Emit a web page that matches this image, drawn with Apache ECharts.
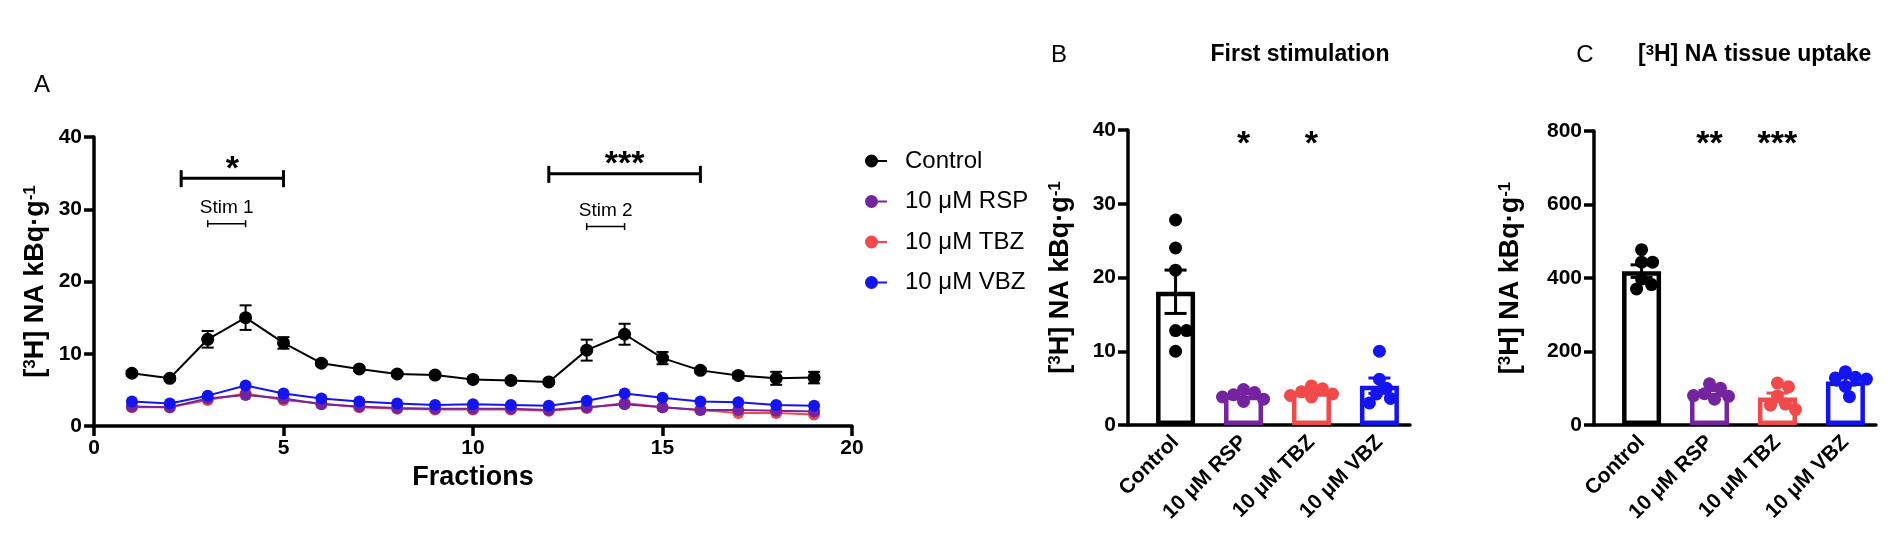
<!DOCTYPE html>
<html><head><meta charset="utf-8">
<script src="https://cdn.jsdelivr.net/npm/echarts@6/dist/echarts.min.js"></script>
<style>html,body{margin:0;padding:0;background:#fff}#c{width:1902px;height:541px}</style>
</head><body><div id="c"></div>
<script>
// ---------- DATA ----------
// Panel A: release per fraction (mean, SEM)
const fractions = [1,2,3,4,5,6,7,8,9,10,11,12,13,14,15,16,17,18,19];
const controlA = [7.3, 6.6, 12.0, 15.0, 11.5, 8.7, 7.9, 7.2, 7.05, 6.45, 6.3, 6.1, 10.5, 12.7, 9.4, 7.7, 7.0, 6.6, 6.7];
const controlSemA = [0.3, 0.3, 1.15, 1.7, 0.8, 0.3, 0.3, 0.3, 0.3, 0.3, 0.3, 0.3, 1.45, 1.45, 0.85, 0.3, 0.4, 0.9, 0.8];
const rspA = [2.7, 2.6, 3.8, 4.3, 3.8, 3.0, 2.7, 2.5, 2.4, 2.4, 2.4, 2.2, 2.6, 3.0, 2.6, 2.2, 2.2, 2.1, 2.0];
const tbzA = [2.6, 2.6, 3.6, 4.5, 3.6, 3.1, 2.6, 2.4, 2.3, 2.3, 2.3, 2.1, 2.5, 3.2, 2.6, 2.2, 1.8, 1.8, 1.6];
const vbzA = [3.4, 3.1, 4.2, 5.6, 4.5, 3.8, 3.4, 3.1, 2.9, 3.0, 2.9, 2.8, 3.5, 4.5, 3.9, 3.4, 3.3, 2.9, 2.8];
const seriesNamesA = ['Control', '10 \u03bcM RSP', '10 \u03bcM TBZ', '10 \u03bcM VBZ'];
const xTickIntervalA = 5, xMaxA = 20, yMaxA = 40, yIntervalA = 10;
// significance brackets and stimulation periods (fraction from, fraction to, level)
const sigFromA = [2.3, 12], sigToA = [5, 16], sigLevelA = [34.3, 34.9], sigTextA = ['*', '***'];
const stimFromA = [3, 13], stimToA = [4, 14], stimLevelA = [28.0, 27.6], stimTextA = ['Stim 1', 'Stim 2'];

// Panels B and C: groups and individual points
const groups = ['Control', '10 \u03bcM RSP', '10 \u03bcM TBZ', '10 \u03bcM VBZ'];
const firstStim = [
  [27.8, 24.0, 21.0, 12.8, 12.8, 10.0],
  [4.8, 4.4, 4.1, 3.8, 3.5, 3.2],
  [5.3, 4.9, 4.5, 4.2, 4.0, 3.8],
  [10.0, 6.2, 5.0, 4.2, 3.6, 3.0]
];
const tissueUptake = [
  [477, 443, 443, 397, 382, 370],
  [112, 100, 85, 80, 78, 70],
  [114, 104, 79, 57, 54, 42],
  [145, 130, 128, 125, 105, 77]
];
const yMaxB = 40, yIntervalB = 10, yMaxC = 800, yIntervalC = 200;
const sigGroupB = [1, 2], sigLevelB = [38.0, 38.0], sigTextB = ['*', '*'];
const sigGroupC = [1, 2], sigLevelC = [762, 762], sigTextC = ['**', '***'];

// ---------- STYLE / LAYOUT ----------
const FONT = '"Liberation Sans", Arial, Helvetica, sans-serif';
const groupColors = ['#000000', '#74249f', '#f04a4a', '#1414ee'];
const GA = {left: 94, top: 137, width: 758, height: 289};
const GB = {left: 1128, top: 130, width: 282, height: 295};
const GC = {left: 1594, top: 131, width: 282, height: 294};
const X_MIN = -0.7, X_MAX = 3.45;
const DOT = 13, SWARM_GAP = 11;

function mean(a){ return a.reduce((s,v)=>s+v,0)/a.length; }
function sem(a){ const m=mean(a); const v=a.reduce((s,x)=>s+(x-m)*(x-m),0)/(a.length-1); return Math.sqrt(v/a.length); }

// beeswarm offsets in pixels
function swarm(vals, ppuY, D){
  const order = vals.map((v,i)=>i).sort((a,b)=>vals[b]-vals[a]);
  const placed = []; const off = new Array(vals.length).fill(0);
  for (const i of order){
    const y = vals[i]*ppuY; let best = 0;
    for (let k=0;k<400;k++){
      const c = k===0?0:(k%2?Math.ceil(k/2):-Math.ceil(k/2));
      if (placed.every(p => (p.x-c)*(p.x-c)+(p.y-y)*(p.y-y) >= D*D)){ best=c; break; }
    }
    placed.push({x:best,y}); off[i]=best;
  }
  return off;
}

function dotData(groupVals, grid, yMax){
  const ppuY = grid.height / yMax;
  const ppuX = grid.width / (X_MAX - X_MIN);
  const out = [];
  groupVals.forEach((vals, g) => {
    const off = swarm(vals, ppuY, SWARM_GAP);
    vals.forEach((v, j) => out.push({value: [g + off[j]/ppuX, v], itemStyle: {color: groupColors[g], opacity: 1}}));
  });
  return out;
}

function errRender(capHalf, lw, colorFn){
  return function(params, api){
    const x = api.value(0), lo = api.value(1), hi = api.value(2);
    const a = api.coord([x, lo]), b = api.coord([x, hi]);
    const st = {stroke: colorFn(params.dataIndex), lineWidth: lw};
    return {type:'group', children:[
      {type:'line', shape:{x1:a[0],y1:a[1],x2:b[0],y2:b[1]}, style:st},
      {type:'line', shape:{x1:a[0]-capHalf,y1:a[1],x2:a[0]+capHalf,y2:a[1]}, style:st},
      {type:'line', shape:{x1:b[0]-capHalf,y1:b[1],x2:b[0]+capHalf,y2:b[1]}, style:st}
    ]};
  };
}

function starRender(texts){
  return function(params, api){
    const p = api.coord([api.value(0), api.value(1)]);
    return {type:'text', x:p[0], y:p[1], style:{text:texts[params.dataIndex], align:'center', verticalAlign:'middle',
      fontSize:34, fontWeight:'bold', fontFamily:FONT, fill:'#000'}};
  };
}

const axisLine = {show:true, onZero:false, lineStyle:{color:'#000', width:3.5}};
const axisTick = {show:true, length:10, lineStyle:{color:'#000', width:3.5}};
const tickLabel = {color:'#000', fontSize:21, fontWeight:'bold', fontFamily:FONT};
const supRich = {s:{fontSize:17, fontWeight:'bold', fontFamily:FONT, fill:'#000', color:'#000', verticalAlign:'top'}};
const yTitle = '[{s|3}H] NA kBq\u00b7g{s|-1}';
const yNameStyle = {fontSize:27, fontWeight:'bold', fontFamily:FONT, color:'#000', rich:supRich};

function catXAxis(gridIndex){
  return {type:'value', gridIndex, min:X_MIN, max:X_MAX, axisLine, axisTick:{show:false}, splitLine:{show:false},
    axisLabel:{...tickLabel, rotate:45, margin:14, customValues:[0,1,2,3], formatter:(v)=>groups[Math.round(v)]}};
}

// ---------- CHART ----------
const chart = echarts.init(document.getElementById('c'));
const meansB = firstStim.map(mean), semB = firstStim.map(sem);
const meansC = tissueUptake.map(mean), semC = tissueUptake.map(sem);
const linesA = [controlA, rspA, tbzA, vbzA];

const option = {
  animation: false,
  backgroundColor: '#fff',
  grid: [
    {left:GA.left, top:GA.top, width:GA.width, height:GA.height},
    {left:GB.left, top:GB.top, width:GB.width, height:GB.height},
    {left:GC.left, top:GC.top, width:GC.width, height:GC.height}
  ],
  xAxis: [
    {type:'value', gridIndex:0, min:0, max:xMaxA, interval:xTickIntervalA, axisLine, axisTick, splitLine:{show:false},
      axisLabel:{...tickLabel, margin:12}, name:'Fractions', nameLocation:'middle', nameGap:29,
      nameTextStyle:{fontSize:27, fontWeight:'bold', fontFamily:FONT, color:'#000'}},
    catXAxis(1), catXAxis(2)
  ],
  yAxis: [
    {type:'value', gridIndex:0, min:0, max:yMaxA, interval:yIntervalA, axisLine, axisTick, splitLine:{show:false},
      axisLabel:{...tickLabel, margin:12}, name:yTitle, nameLocation:'middle', nameGap:45, nameTextStyle:yNameStyle},
    {type:'value', gridIndex:1, min:0, max:yMaxB, interval:yIntervalB, axisLine, axisTick, splitLine:{show:false},
      axisLabel:{...tickLabel, margin:12}, name:yTitle, nameLocation:'middle', nameGap:54, nameTextStyle:yNameStyle},
    {type:'value', gridIndex:2, min:0, max:yMaxC, interval:yIntervalC, axisLine, axisTick, splitLine:{show:false},
      axisLabel:{...tickLabel, margin:12}, name:yTitle, nameLocation:'middle', nameGap:70, nameTextStyle:yNameStyle}
  ],
  legend: {
    orient:'vertical', left:860, top:143, itemWidth:22, itemHeight:13, itemGap:14.5,
    icon:'path://M6.5,0A6.5,6.5,0,1,1,6.5,13A6.5,6.5,0,1,1,6.5,0Z M12,5.5L22,5.5L22,7.5L12,7.5Z',
    itemStyle:{borderWidth:0},
    textStyle:{fontSize:24, lineHeight:26, fontFamily:FONT, color:'#000', padding:[0,0,0,13]},
    data: seriesNamesA, selectedMode:false
  },
  graphic: [
    {type:'text', x:42, y:85, style:{text:'A', align:'center', verticalAlign:'middle', fontSize:24, fontFamily:FONT, fill:'#000'}},
    {type:'text', x:1059, y:55, style:{text:'B', align:'center', verticalAlign:'middle', fontSize:24, fontFamily:FONT, fill:'#000'}},
    {type:'text', x:1300, y:55, style:{text:'First stimulation', align:'center', verticalAlign:'middle', fontSize:23, fontWeight:'bold', fontFamily:FONT, fill:'#000'}},
    {type:'text', x:1585, y:55, style:{text:'C', align:'center', verticalAlign:'middle', fontSize:24, fontFamily:FONT, fill:'#000'}},
    {type:'text', x:1638, y:55, style:{text:'[{s|3}H] NA tissue uptake', align:'left', verticalAlign:'middle', fontSize:23, fontWeight:'bold', fontFamily:FONT, fill:'#000',
      rich:{s:{fontSize:15, fontWeight:'bold', fontFamily:FONT, fill:'#000', verticalAlign:'top'}}}}
  ],
  series: []
};

// Panel A lines (drawn TBZ, RSP, VBZ, Control so that Control is on top)
[2,1,3,0].forEach(k => {
  option.series.push({
    type:'line', name:seriesNamesA[k], xAxisIndex:0, yAxisIndex:0,
    data: fractions.map((f,i)=>[f, linesA[k][i]]),
    symbol:'circle', symbolSize: k===0?13:12, showSymbol:true,
    lineStyle:{color:groupColors[k], width:2}, itemStyle:{color:groupColors[k], borderWidth:0, opacity:1},
    z: k===0?6:(k===3?5:4), emphasis:{disabled:true}
  });
});
// Control error bars
option.series.push({
  type:'custom', xAxisIndex:0, yAxisIndex:0, z:7,
  data: fractions.map((f,i)=>[f, controlA[i]-controlSemA[i], controlA[i]+controlSemA[i]]),
  encode:{x:0, y:[1,2]}, renderItem: errRender(6, 2, ()=> '#000')
});
// Significance brackets
option.series.push({
  type:'custom', xAxisIndex:0, yAxisIndex:0, z:8,
  data: sigFromA.map((f,i)=>[f, sigToA[i], sigLevelA[i]]),
  encode:{x:[0,1], y:2},
  renderItem: function(params, api){
    const a = api.coord([api.value(0), api.value(2)]), b = api.coord([api.value(1), api.value(2)]);
    const st = {stroke:'#000', lineWidth:3};
    return {type:'group', children:[
      {type:'line', shape:{x1:a[0],y1:a[1],x2:b[0],y2:b[1]}, style:st},
      {type:'line', shape:{x1:a[0],y1:a[1]-8,x2:a[0],y2:a[1]+9}, style:st},
      {type:'line', shape:{x1:b[0],y1:b[1]-8,x2:b[0],y2:b[1]+9}, style:st},
      {type:'text', x:(a[0]+b[0])/2, y:a[1]-9, style:{text:sigTextA[params.dataIndex], align:'center', verticalAlign:'middle', fontSize:34, fontWeight:'bold', fontFamily:FONT, fill:'#000'}}
    ]};
  }
});
// Stimulation periods
option.series.push({
  type:'custom', xAxisIndex:0, yAxisIndex:0, z:8,
  data: stimFromA.map((f,i)=>[f, stimToA[i], stimLevelA[i]]),
  encode:{x:[0,1], y:2},
  renderItem: function(params, api){
    const a = api.coord([api.value(0), api.value(2)]), b = api.coord([api.value(1), api.value(2)]);
    const st = {stroke:'#000', lineWidth:1.5};
    return {type:'group', children:[
      {type:'line', shape:{x1:a[0],y1:a[1],x2:b[0],y2:b[1]}, style:st},
      {type:'line', shape:{x1:a[0],y1:a[1]-3.5,x2:a[0],y2:a[1]+3.5}, style:st},
      {type:'line', shape:{x1:b[0],y1:b[1]-3.5,x2:b[0],y2:b[1]+3.5}, style:st},
      {type:'text', x:(a[0]+b[0])/2, y:a[1]-16, style:{text:stimTextA[params.dataIndex], align:'center', verticalAlign:'middle', fontSize:19, fontFamily:FONT, fill:'#000'}}
    ]};
  }
});

// Panels B and C
[[1, meansB, semB, firstStim, GB, yMaxB, sigGroupB, sigLevelB, sigTextB],
 [2, meansC, semC, tissueUptake, GC, yMaxC, sigGroupC, sigLevelC, sigTextC]].forEach(([gi, means, sems, pts, grid, ymax, sg, sl, st]) => {
  option.series.push({
    type:'bar', xAxisIndex:gi, yAxisIndex:gi, barWidth:39, z:2,
    data: means.map((m,i)=>({value:[i,m], itemStyle:{borderColor:groupColors[i]}})),
    itemStyle:{color:'#fff', borderWidth:4.5}, emphasis:{disabled:true}
  });
  option.series.push({
    type:'custom', xAxisIndex:gi, yAxisIndex:gi, z:3,
    data: means.map((m,i)=>[i, m - sems[i], m + sems[i]]), encode:{x:0, y:[1,2]},
    renderItem: errRender(11, 3, (i)=>groupColors[i])
  });
  option.series.push({
    type:'scatter', xAxisIndex:gi, yAxisIndex:gi, z:4, symbol:'circle', symbolSize:DOT,
    itemStyle:{opacity:1},
    data: dotData(pts, grid, ymax), emphasis:{disabled:true}
  });
  option.series.push({
    type:'custom', xAxisIndex:gi, yAxisIndex:gi, z:5,
    data: sg.map((g,i)=>[g, sl[i]]), encode:{x:0, y:1}, renderItem: starRender(st)
  });
});

chart.setOption(option);
</script>
</body></html>
